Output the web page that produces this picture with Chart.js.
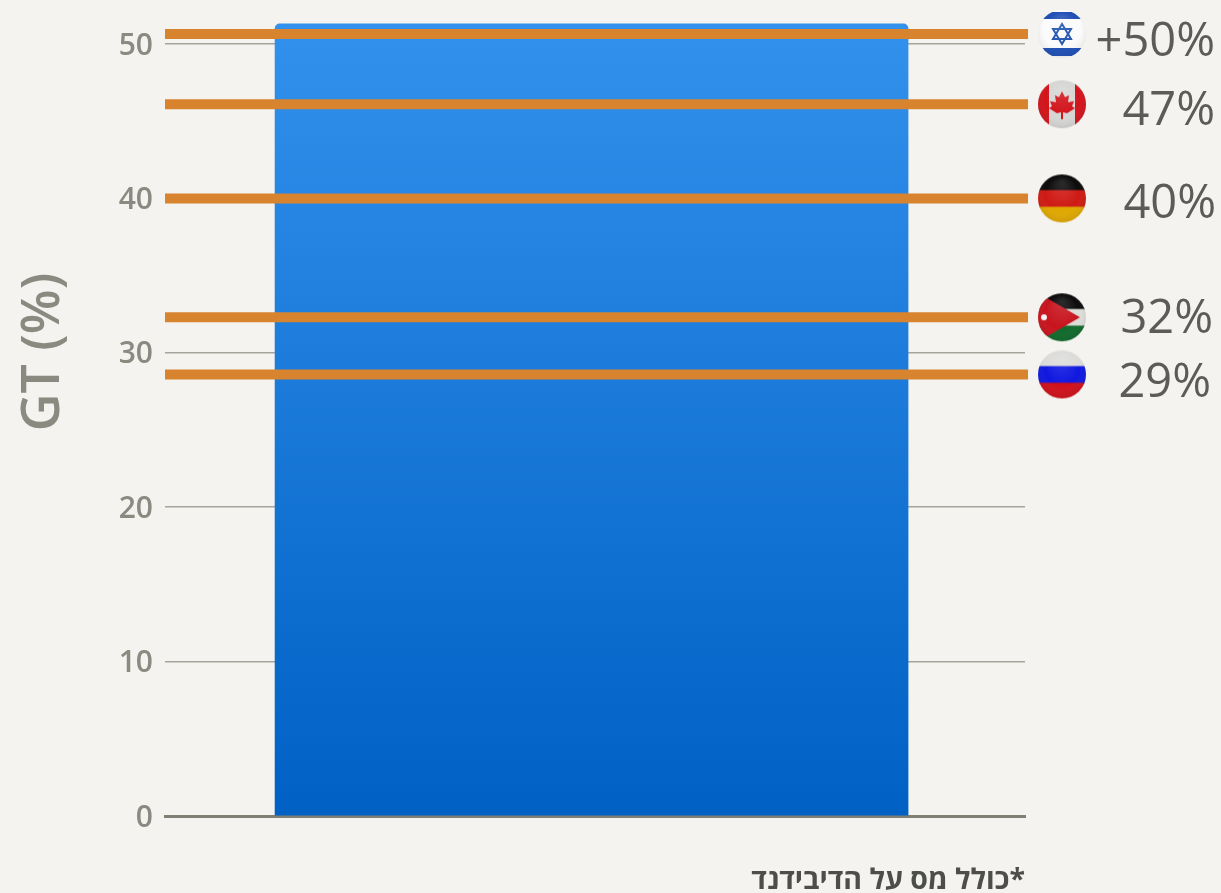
<!DOCTYPE html>
<html lang="he">
<head>
<meta charset="utf-8">
<style>
  html, body { margin: 0; padding: 0; background: #f4f3ef; }
  canvas { display: block; }
</style>
</head>
<body>
<canvas id="chart" width="1221" height="893"></canvas>
<script src="https://cdn.jsdelivr.net/npm/chart.js@4/dist/chart.umd.min.js"></script>
<script>
// values
const countries = ["Israel", "Canada", "Germany", "Jordan", "Russia"];
const rateValues = [50.65, 46.1, 40, 32.3, 28.6];
const rateLabels = ["+50%", "47%", "40%", "32%", "29%"];
const barValue = 51.3;
const yTicks = [0, 10, 20, 30, 40, 50];
const axisTitle = "GT (%)";
const footnote = "*כולל מס על הדיבידנד";

// x is only a 0-100 layout scale across the plot
const BAR_X = 49.6;
const RULE_END_X = 100.35;
const FLAG_X = 104.3;
const FLAG_SIZE = 50;
const labelNudgeY = [9, 7, 6, 2, 9];
const labelRight = [1215, 1215, 1216, 1213, 1211];

function makeFlag(name) {
  const size = FLAG_SIZE, c = document.createElement("canvas");
  c.width = c.height = size;
  const g = c.getContext("2d");
  g.beginPath();
  g.arc(size / 2, size / 2, size / 2 - 1, 0, Math.PI * 2);
  g.clip();
  const stripes = (colors) => colors.forEach((col, i) => {
    g.fillStyle = col;
    g.fillRect(0, i * size / colors.length, size, size / colors.length + 1);
  });
  if (name === "Israel") {
    g.fillStyle = "#fbfbfb";
    g.fillRect(0, 0, size, size);
    g.fillStyle = "#1f4fb5";
    g.fillRect(0, 3, size, 7);
    g.fillRect(0, 39, size, 8);
    g.strokeStyle = "#2456b0";
    g.lineWidth = 2;
    [[25, 15, 16, 30, 34, 30], [25, 35, 16, 20, 34, 20]].forEach((t) => {
      g.beginPath();
      g.moveTo(t[0], t[1]); g.lineTo(t[2], t[3]); g.lineTo(t[4], t[5]);
      g.closePath();
      g.stroke();
    });
  } else if (name === "Canada") {
    g.fillStyle = "#d6d6d4";
    g.fillRect(0, 0, size, size);
    g.fillStyle = "#d3141c";
    g.fillRect(0, 0, 12, size);
    g.fillRect(38, 0, 12, size);
    g.beginPath();
    [[25, 12], [28, 18], [32, 16], [31, 23], [37, 22], [35, 27], [38, 29], [30, 34], [26, 33], [26, 40], [24, 40], [24, 33], [20, 34], [12, 29], [15, 27], [13, 22], [19, 23], [18, 16], [22, 18]]
      .forEach((p, i) => i ? g.lineTo(p[0], p[1]) : g.moveTo(p[0], p[1]));
    g.closePath();
    g.fill();
  } else if (name === "Germany") {
    stripes(["#0b0b0b", "#cf1a14", "#e0a800"]);
  } else if (name === "Jordan") {
    stripes(["#0c0c0c", "#dcdcd8", "#0f6a2c"]);
    g.fillStyle = "#c8141e";
    g.beginPath();
    g.moveTo(0, 0); g.lineTo(43, 25); g.lineTo(0, 50);
    g.closePath();
    g.fill();
    g.fillStyle = "#f5f5f5";
    g.beginPath();
    g.arc(7, 25, 3, 0, Math.PI * 2);
    g.fill();
  } else {
    stripes(["#dcdcda", "#1018e0", "#d0101a"]);
  }
  // soft shade round the edge of the flag
  const gloss = g.createRadialGradient(25, 10, 2, 25, 25, 27);
  gloss.addColorStop(0, "rgba(255,255,255,0.12)");
  gloss.addColorStop(0.6, "rgba(255,255,255,0)");
  gloss.addColorStop(1, "rgba(0,0,0,0.12)");
  g.fillStyle = gloss;
  g.fillRect(0, 0, size, size);
  return c;
}

const flagImages = countries.map(makeFlag);

// one rule per country, drawn over the bar
const ruleSets = rateValues.map((v, i) => ({
  type: "line",
  label: countries[i],
  data: [{ x: 0, y: v }, { x: RULE_END_X, y: v }],
  borderColor: "#d8842f",
  borderWidth: 10,
  borderCapStyle: "butt",
  pointRadius: 0,
  clip: false,
  order: 2
}));

const textPlugin = {
  id: "textPlugin",
  afterDraw(chart) {
    const ctx = chart.ctx, x = chart.scales.x, y = chart.scales.y;
    ctx.save();
    // flags sit outside the plot area, so they go here and not in a dataset
    rateValues.forEach((v, i) => {
      ctx.drawImage(flagImages[i], x.getPixelForValue(FLAG_X) - FLAG_SIZE / 2, y.getPixelForValue(v) - FLAG_SIZE / 2);
    });
    // percent labels beside the flags
    ctx.fillStyle = "#5b5b58";
    ctx.font = '47px "Open Sans"';
    ctx.textAlign = "right";
    ctx.textBaseline = "middle";
    rateLabels.forEach((t, i) => {
      ctx.fillText(t, labelRight[i], y.getPixelForValue(rateValues[i]) + labelNudgeY[i]);
    });
    // axis title
    ctx.save();
    ctx.translate(44, 352);
    ctx.rotate(-Math.PI / 2);
    ctx.textAlign = "center";
    ctx.fillStyle = "#8b8a80";
    ctx.font = '600 52px "Open Sans"';
    ctx.fillText(axisTitle, 0, 0);
    ctx.restore();
    // footnote
    ctx.direction = "rtl";
    ctx.textAlign = "right";
    ctx.fillStyle = "#4d4d4b";
    ctx.font = 'bold 28.5px "Open Sans", "Liberation Sans", "DejaVu Sans"';
    ctx.fillText(footnote, 1025, 881);
    ctx.restore();
  }
};

new Chart(document.getElementById("chart").getContext("2d"), {
  type: "bar",
  data: {
    datasets: [
      {
        label: "GT",
        data: [{ x: BAR_X, y: barValue }],
        barThickness: 633,
        borderRadius: { topLeft: 5, topRight: 5 },
        borderSkipped: "bottom",
        backgroundColor(context) {
          const area = context.chart.chartArea;
          if (!area) return "#1878dc";
          const grad = context.chart.ctx.createLinearGradient(0, 24, 0, area.bottom);
          grad.addColorStop(0, "#3291ec");
          grad.addColorStop(1, "#0060c4");
          return grad;
        },
        order: 3
      },
      ...ruleSets
    ]
  },
  options: {
    responsive: false,
    animation: false,
    events: [],
    plugins: { legend: { display: false }, tooltip: { enabled: false } },
    layout: { padding: { left: 0, right: 196, top: 0, bottom: 0 } },
    scales: {
      x: {
        type: "linear",
        min: 0,
        max: 100,
        offset: false,
        grid: { display: false, drawTicks: false },
        border: { display: true, color: "#817e74", width: 3 },
        ticks: { display: false },
        afterFit(scale) { scale.height = 893 - 816; }
      },
      y: {
        min: 0,
        max: 52.85,
        afterFit(scale) {
          scale.width = 165;
          scale.paddingTop = 0;
          scale.paddingBottom = 0;
        },
        afterBuildTicks(scale) { scale.ticks = yTicks.map((v) => ({ value: v })); },
        border: { display: false },
        grid: {
          color: "#a6a49b",
          lineWidth: 1.5,
          drawTicks: false
        },
        ticks: {
          color: "#8b8a80",
          font: { family: '"Open Sans"', size: 30, weight: 600 },
          padding: 12,
          labelOffset: 2
        }
      }
    }
  },
  plugins: [textPlugin]
});
</script>
</body>
</html>
